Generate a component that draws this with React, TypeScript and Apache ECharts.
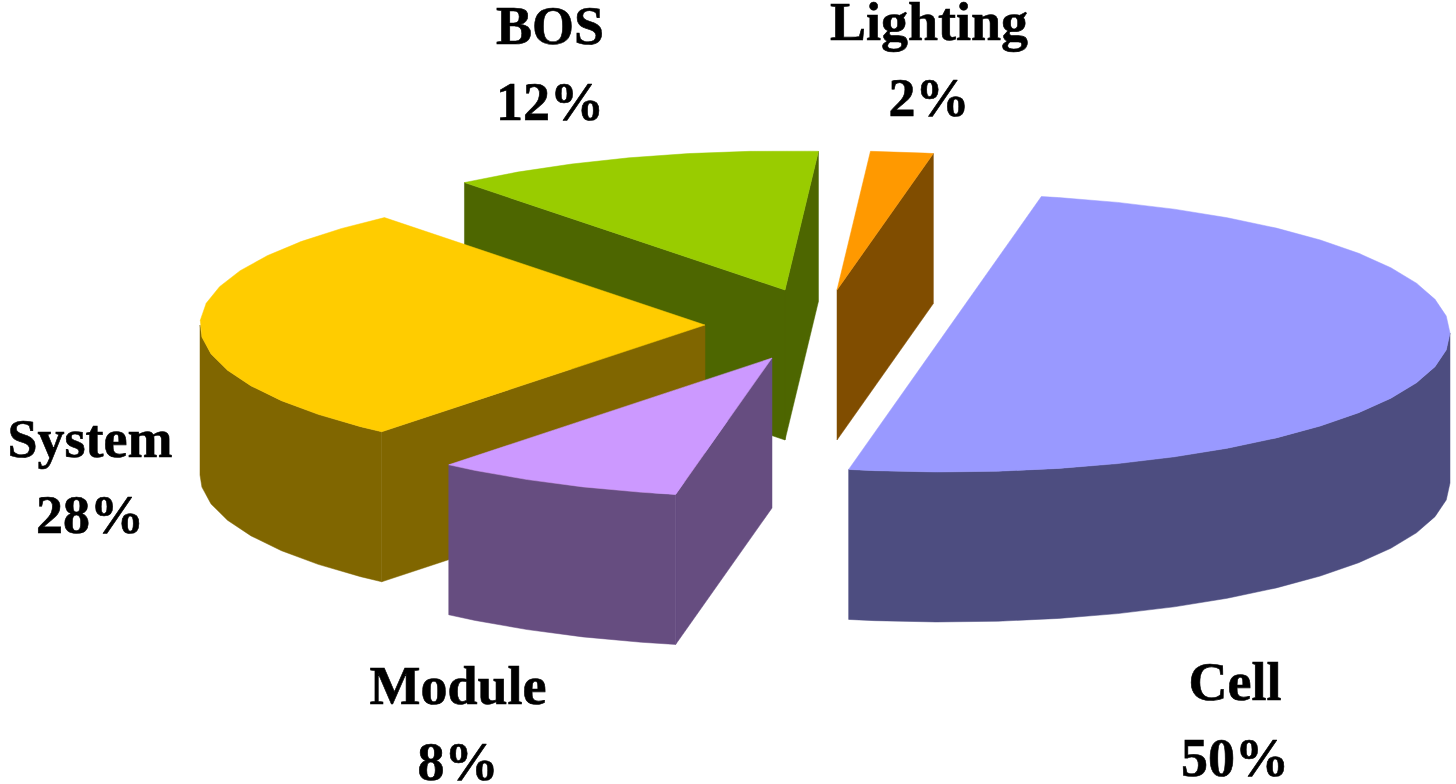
import React, { useEffect, useRef } from "react";
import * as echarts from "echarts";

const categories = ["Cell", "Module", "System", "BOS", "Lighting"];
const shares = [50, 8, 28, 12, 2];

const topColors = ["#9999ff", "#cc99ff", "#ffcc00", "#99cc00", "#ff9900"];
const sideColors = ["#4d4d80", "#664d80", "#806600", "#4d6600", "#804d00"];

// layout of the exploded projection
const START_ANGLE = 79;
const RX = 505;
const RY = 139;
const DEPTH = 150;
const FACET = 7;
const centers = [
  [945, 333],
  [772, 358],
  [705, 325],
  [785, 290],
  [837, 290],
];
const paintOrder = [4, 3, 2, 1, 0];
const labelPos = [
  [1235, 720],
  [458, 724],
  [90, 477],
  [550, 64],
  [929, 60],
];
const LINE_GAP = 38;

type Pt = number[];

function arcPoints(c: Pt, from: number, to: number): Pt[] {
  const angles = [from];
  let a = Math.floor((from - 0.001) / FACET) * FACET;
  while (a > to) {
    angles.push(a);
    a -= FACET;
  }
  angles.push(to);
  return angles.map((d) => [
    c[0] + RX * Math.cos((d * Math.PI) / 180),
    c[1] - RY * Math.sin((d * Math.PI) / 180),
  ]);
}

const down = (p: Pt): Pt => [p[0], p[1] + DEPTH];

function renderSlice(params: any, api: any) {
  const i = params.dataIndex;
  const total = shares.reduce((s, v) => s + v, 0);
  const before = shares.slice(0, i).reduce((s, v) => s + v, 0);
  const a0 = START_ANGLE - (before / total) * 360;
  const a1 = a0 - (api.value(0) / total) * 360;
  const c = centers[i];
  const z2 = paintOrder[i] * 10;
  const children: any[] = [];
  const poly = (points: Pt[], fill: string, z: number) =>
    children.push({
      type: "polygon",
      z2: z,
      shape: { points },
      style: { fill, stroke: fill, lineWidth: 0.5 },
    });
  const rim = arcPoints(c, a0, a1);
  const first = rim[0];
  const last = rim[rim.length - 1];
  const sin = (d: number) => Math.sin((d * Math.PI) / 180);

  // flat cut faces that look toward the viewer
  if (sin(a0 + 90) < 0) {
    poly([c, first, down(first), down(c)], sideColors[i], z2);
  }
  if (sin(a1 - 90) < 0) {
    poly([c, last, down(last), down(c)], sideColors[i], z2);
  }
  // outer wall: only the front half of the rim is visible
  for (const k of [0, -360]) {
    const hi = Math.min(a0, k);
    const lo = Math.max(a1, k - 180);
    if (hi > lo) {
      const top = arcPoints(c, hi, lo);
      poly([...top, ...top.map(down).reverse()], sideColors[i], z2 + 1);
    }
  }
  poly([c, ...rim], topColors[i], z2 + 2);
  const label = (text: string, y: number) =>
    children.push({
      type: "text",
      z2: 100,
      x: labelPos[i][0],
      y,
      style: {
        text,
        fill: "#000000",
        stroke: "#000000",
        lineWidth: 0.6,
        font: 'bold 54px "Liberation Serif"',
        lineHeight: 44,
        align: "center",
        verticalAlign: "middle",
      },
    });
  label(categories[i], labelPos[i][1] - LINE_GAP);
  label(`${api.value(0)}%`, labelPos[i][1] + LINE_GAP);
  return { type: "group", children };
}

export default function App() {
  const ref = useRef<HTMLDivElement>(null);
  useEffect(() => {
    const chart = echarts.init(ref.current!, undefined, { renderer: "svg" });
    chart.setOption({
      animation: false,
      backgroundColor: "#ffffff",
      series: [
        {
          type: "custom",
          coordinateSystem: "none",
          silent: true,
          clip: false,
          renderItem: renderSlice,
          data: shares.map((v, i) => ({ name: categories[i], value: [v] })),
        },
      ],
    });
    return () => chart.dispose();
  }, []);
  return (
    <div
      ref={ref}
      style={{ position: "fixed", left: 0, top: 0, width: 1456, height: 784 }}
    />
  );
}
